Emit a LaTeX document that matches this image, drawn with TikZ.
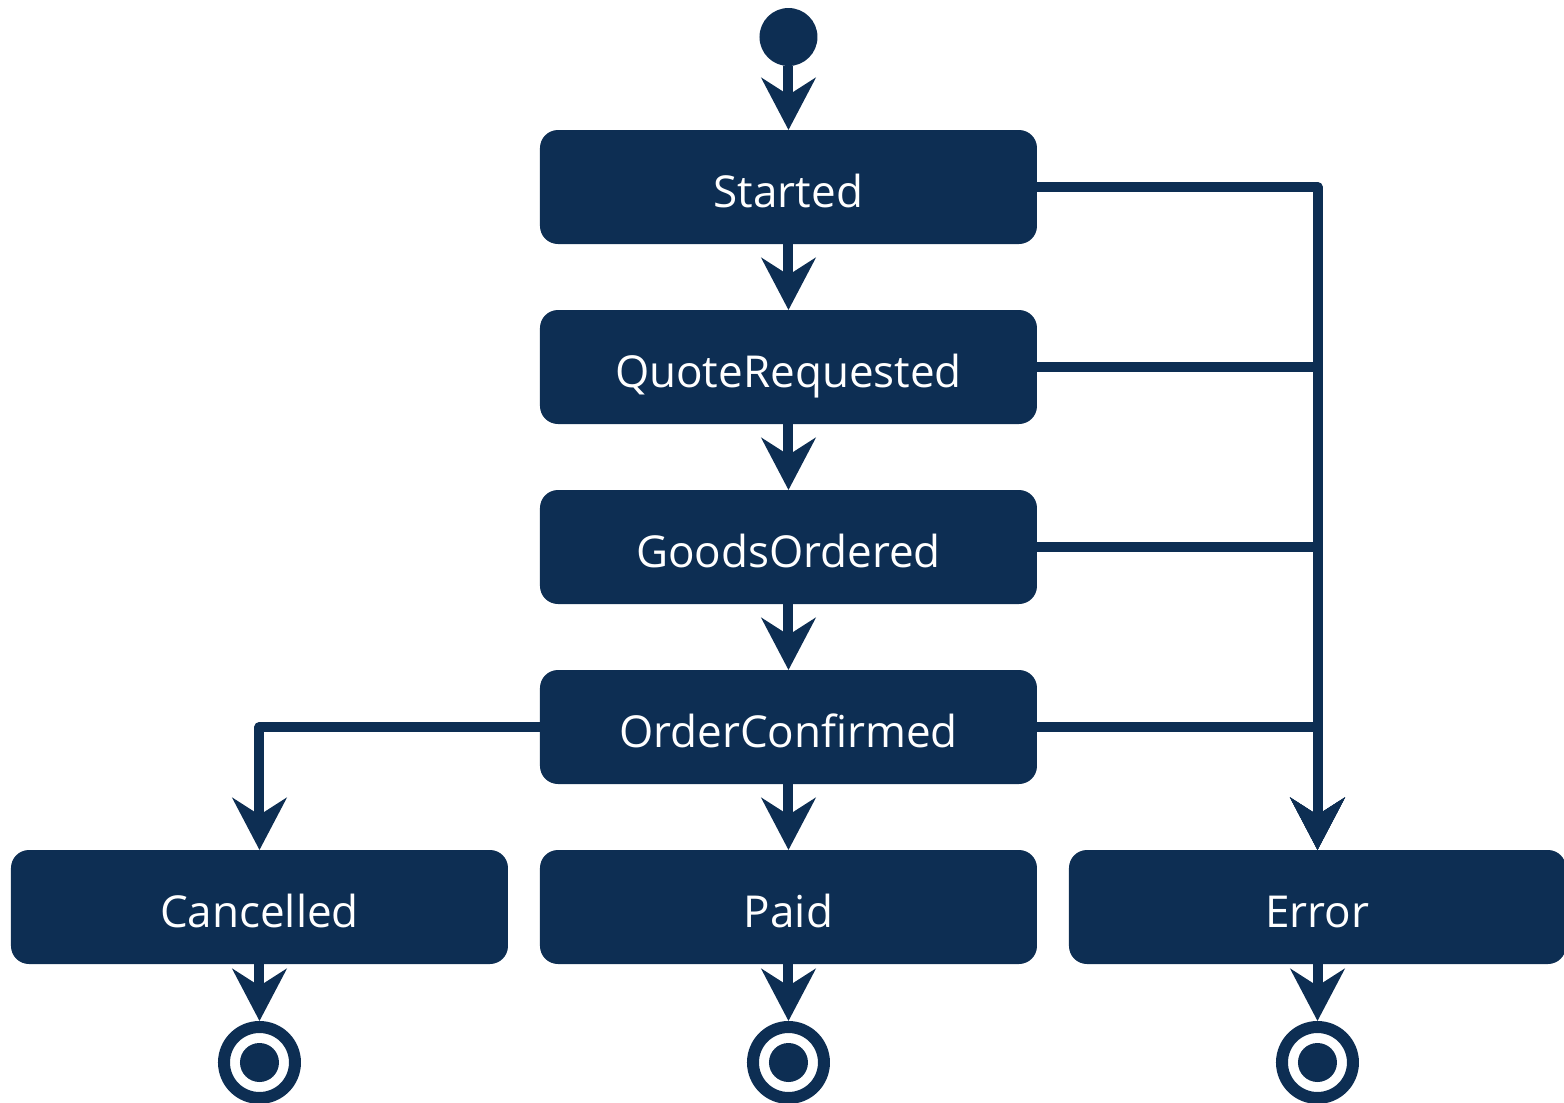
\documentclass[tikz,border=0pt]{standalone}
\usepackage{fontspec}
\setmainfont{Open Sans}
\usepackage{tikz}
\usetikzlibrary{matrix,arrows.meta}
\definecolor{navy}{RGB}{13,46,83}

\begin{document}
\begin{tikzpicture}[
	>={Stealth[length=26pt,width=27pt,inset=8.5pt]},
	state/.style={fill=navy, text=white, rounded corners=9pt,
		minimum width=248.5pt, minimum height=57pt, inner sep=0pt, outer sep=0pt,
		text height=21pt, text depth=0.5pt, font=\fontsize{22}{26}\selectfont},
	init/.style={circle, fill=navy, minimum size=29pt, inner sep=0pt, outer sep=0pt},
	final/.style={circle, draw=navy, line width=6pt, minimum size=35.5pt, inner sep=0pt,
		path picture={\fill[navy] (path picture bounding box.center) circle (9.75pt);}},
	elbow/.style={line join=round, to path={-| (\tikztotarget)}}
	]
			\matrix (b) [matrix of nodes, row sep=33pt,
				column sep=16pt, nodes={anchor=center}]
			{
				                    & |[init]|                 &                  \\[-1pt]
				                    & |[state]| Started        &                  \\
				                    & |[state]| QuoteRequested &                  \\
				                    & |[state]| GoodsOrdered   &                  \\
				                    & |[state]| OrderConfirmed &                  \\
				|[state]| Cancelled & |[state]| Paid           & |[state]| Error  \\[-4.5pt]
				|[final]|           & |[final]|                & |[final]|        \\
			};
			\path[->, color=navy, line width=5pt]
			(b-1-2) edge (b-2-2)
			(b-2-2) edge (b-3-2) edge[elbow] (b-6-3)
			(b-3-2) edge (b-4-2) edge[elbow] (b-6-3)
			(b-4-2) edge (b-5-2) edge[elbow] (b-6-3)
			(b-5-2) edge (b-6-2) edge[elbow] (b-6-3) edge[elbow] (b-6-1)
			(b-6-1) edge (b-7-1)
			(b-6-2) edge (b-7-2)
			(b-6-3) edge (b-7-3);
			\pgfresetboundingbox
			\path[use as bounding box] ([shift={(-394.25pt,4pt)}]b-1-2.north)
				rectangle ([shift={(387.75pt,-547.5pt)}]b-1-2.north);
		\end{tikzpicture}
\end{document}
